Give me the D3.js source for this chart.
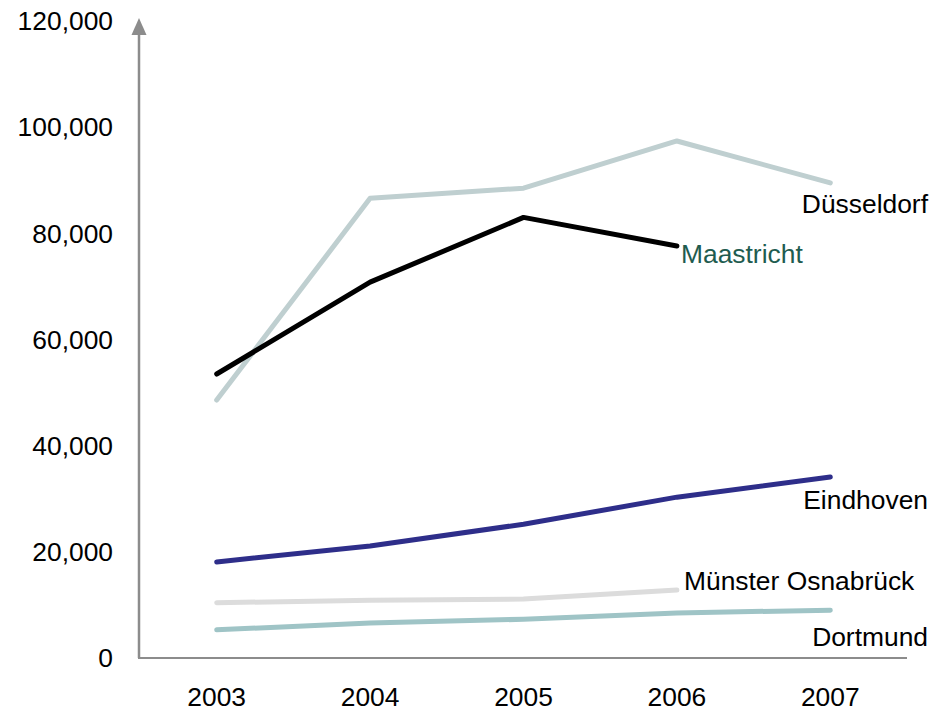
<!DOCTYPE html>
<html>
<head>
<meta charset="utf-8">
<script src="https://cdn.jsdelivr.net/npm/d3@7"></script>
<style>
  body { margin: 0; background: #fff; }
  text { font-family: "Liberation Sans", Arial, sans-serif; font-size: 26.4px; fill: #000; }
</style>
</head>
<body>
<svg width="948" height="712"></svg>
<script>
const years = ['2003', '2004', '2005', '2006', '2007']
const yTicks = [0, 20000, 40000, 60000, 80000, 100000, 120000]

const dusseldorf = [48600, 86600, 88500, 97400, 89500]
const maastricht = [53500, 70800, 83000, 77600]
const eindhoven = [18100, 21100, 25200, 30300, 34100]
const munster = [10400, 10900, 11100, 12800]
const dortmund = [5300, 6600, 7300, 8500, 9000]

const series = [
    { name: 'Düsseldorf', values: dusseldorf, color: '#bfcfd0', label: '#000', anchor: 'end', lx: 928, ly: 213 },
    { name: 'Maastricht', values: maastricht, color: '#000', label: '#1f5c50', anchor: 'start', lx: 681, ly: 263 },
    { name: 'Eindhoven', values: eindhoven, color: '#2e2e8a', label: '#000', anchor: 'end', lx: 928, ly: 509 },
    { name: 'Münster Osnabrück', values: munster, color: '#dcdcdc', label: '#000', anchor: 'start', lx: 684, ly: 590 },
    { name: 'Dortmund', values: dortmund, color: '#9fc4c6', label: '#000', anchor: 'end', lx: 928, ly: 646 }
]

const svg = d3.select('svg')
const axisColor = '#8c8c8c'

const x = d3.scaleBand().domain(years).range([140, 907])
const y = d3.scaleLinear().domain([0, 120000]).range([658, 21])

// axes
svg.append('line')
    .attr('x1', 139).attr('x2', 139)
    .attr('y1', 658).attr('y2', 32)
    .attr('stroke', axisColor).attr('stroke-width', 2.5)
svg.append('path')
    .attr('d', 'M131.5,35 L139,18 L146.5,35 Z')
    .attr('fill', axisColor)
svg.append('line')
    .attr('x1', 138).attr('x2', 907)
    .attr('y1', 658).attr('y2', 658)
    .attr('stroke', axisColor).attr('stroke-width', 2)

svg.append('g').selectAll('text')
    .data(yTicks)
    .enter().append('text')
    .attr('x', 113)
    .attr('y', d => y(d))
    .attr('dy', '0.35em')
    .attr('text-anchor', 'end')
    .text(d => d3.format(',')(d))

svg.append('g').selectAll('text')
    .data(years)
    .enter().append('text')
    .attr('x', d => x(d) + x.bandwidth() / 2)
    .attr('y', 706)
    .attr('text-anchor', 'middle')
    .text(d => d)

const line = d3.line()
    .x((d, i) => x(years[i]) + x.bandwidth() / 2)
    .y(d => y(d))

svg.append('g').selectAll('path')
    .data(series)
    .enter().append('path')
    .attr('d', d => line(d.values))
    .attr('fill', 'none')
    .attr('stroke', d => d.color)
    .attr('stroke-width', 5)
    .attr('stroke-linecap', 'round')
    .attr('stroke-linejoin', 'round')

svg.append('g').selectAll('text')
    .data(series)
    .enter().append('text')
    .attr('x', d => d.lx)
    .attr('y', d => d.ly)
    .attr('text-anchor', d => d.anchor)
    .style('fill', d => d.label)
    .text(d => d.name)
</script>
</body>
</html>
